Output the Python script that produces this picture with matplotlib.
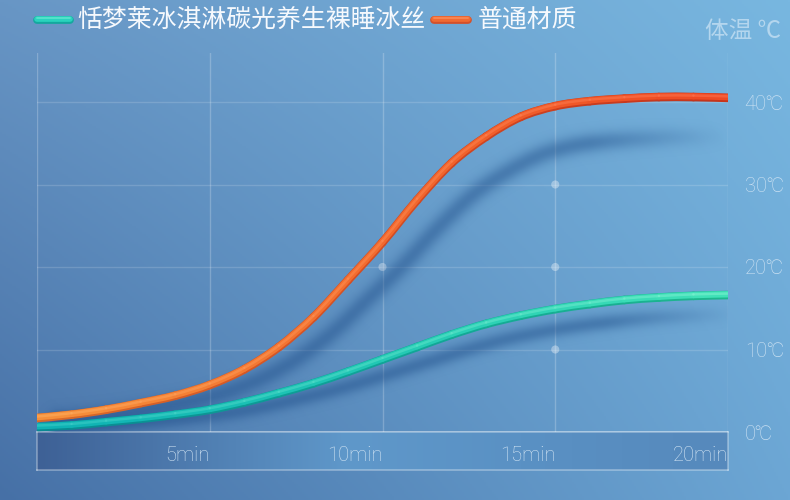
import numpy as np
import matplotlib
matplotlib.use("Agg")
import matplotlib.pyplot as plt
from matplotlib.colors import LinearSegmentedColormap, to_rgb
from matplotlib.lines import Line2D
from matplotlib.path import Path
from matplotlib.patches import PathPatch
import matplotlib.transforms as mtransforms

# ---------------- data ----------------
minutes = list(range(21))
ice_silk = [0.6, 0.8, 1.2, 1.6, 2.1, 2.7, 3.6, 4.7, 5.9, 7.3, 8.8, 10.3, 11.8,
            13.1, 14.1, 14.9, 15.5, 16.0, 16.3, 16.5, 16.6]
ordinary = [1.7, 2.1, 2.7, 3.5, 4.4, 5.7, 7.6, 10.3, 13.9, 18.4, 23.0, 28.1,
            32.6, 35.8, 38.2, 39.5, 40.1, 40.4, 40.6, 40.6, 40.5]
series_names = ["恬梦莱冰淇淋碳光养生裸睡冰丝", "普通材质"]
x_ticks = [5, 10, 15, 20]
x_tick_labels = ["5min", "10min", "15min", "20min"]
y_ticks = [0, 10, 20, 30, 40]
y_tick_labels = ["0℃", "10℃", "20℃", "30℃", "40℃"]
grid_dot_t = [10, 15, 15, 15]
grid_dot_v = [20, 30, 20, 10]
y_title = "体温 ℃"

CJK = ["Noto Sans CJK SC", "DejaVu Sans"]
LAT = ["Roboto", "Noto Sans CJK SC", "DejaVu Sans"]

W, H = 790, 500
fig = plt.figure(figsize=(W / 100, H / 100), dpi=100)

# ---------------- background gradient ----------------
bg = fig.add_axes([0, 0, 1, 1])
bg.set_axis_off()
gx = np.linspace(0, 1, 395)[None, :, None]
gy = np.linspace(0, 1, 250)[:, None, None]
TL = np.array([104, 150, 197]) / 255
TR = np.array([120, 183, 224]) / 255
BL = np.array([70, 112, 166]) / 255
BR = np.array([108, 166, 212]) / 255
img = (TL * (1 - gx) * (1 - gy) + TR * gx * (1 - gy) + BL * (1 - gx) * gy + BR * gx * gy)
bg.imshow(img, extent=[0, 1, 0, 1], aspect="auto", origin="upper", zorder=0)
bg.set_xlim(0, 1)
bg.set_ylim(0, 1)

# ---------------- bottom band ----------------
px_l, px_r, px_top, px_bottom_axis = 37, 728, 53, 432
band = fig.add_axes([px_l / W, (H - 470) / H, (px_r - px_l) / W, 38 / H])
stops = [(0.0, (62, 97, 150)), (0.45, (95, 152, 202)), (0.7, (90, 145, 196)), (1.0, (86, 137, 188))]
bcm = LinearSegmentedColormap.from_list("band", [(p, np.array(c) / 255) for p, c in stops])
band.imshow(np.linspace(0, 1, 300)[None, :], cmap=bcm, aspect="auto", extent=[0, 1, 0, 1])
band.set_xticks([])
band.set_yticks([])
for s in band.spines.values():
    s.set_color((1, 1, 1, 0.35))
    s.set_linewidth(1.2)

# ---------------- main axes ----------------
ax = fig.add_axes([px_l / W, (H - px_bottom_axis) / H, (px_r - px_l) / W, (px_bottom_axis - px_top) / H])
ax.patch.set_alpha(0)
YMAX = (px_bottom_axis - px_top) / 8.25
ax.set_xlim(0, 20)
ax.set_ylim(0, YMAX)
for s in ax.spines.values():
    s.set_visible(False)

for xv in [0] + x_ticks:
    ax.axvline(xv, color=(1, 1, 1, 0.22), lw=1.0, zorder=1)
for yv in y_ticks[1:]:
    ax.axhline(yv, color=(1, 1, 1, 0.15), lw=1.0, zorder=1)
ax.axhline(0, color=(1, 1, 1, 0.30), lw=1.2, zorder=1)

ax.scatter(grid_dot_t, grid_dot_v, s=34, color=(1, 1, 1, 0.35), edgecolors="none", zorder=2)

# ticks
ax.set_xticks(x_ticks)
ax.set_xticklabels(x_tick_labels)
ax.tick_params(axis="x", length=0, pad=10, labelsize=14.5, labelcolor="#d4e6f5")
for lab in ax.get_xticklabels():
    lab.set_ha("right")
    lab.set_family(LAT)
    lab.set_fontweight("light")
ax.yaxis.tick_right()
ax.set_yticks(y_ticks)
ax.set_yticklabels(y_tick_labels)
ax.tick_params(axis="y", length=0, pad=12, labelsize=14.5, labelcolor="#d0e4f4")
for lab in ax.get_yticklabels():
    lab.set_family(LAT)
    lab.set_fontweight("light")


# ---------------- smooth curve helpers ----------------
def bezier_segments(t, v):
    """Catmull-Rom style cubic Bezier control points between the data points."""
    P = np.column_stack([np.asarray(t, float), np.asarray(v, float)])
    n = len(P)
    segs = []
    for i in range(n - 1):
        p0 = P[max(i - 1, 0)]
        p1, p2 = P[i], P[i + 1]
        p3 = P[min(i + 2, n - 1)]
        c1 = p1 + (p2 - p0) / 6.0
        c2 = p2 - (p3 - p1) / 6.0
        segs.append(np.array([p1, c1, c2, p2]))
    return segs


def full_path(t, v):
    segs = bezier_segments(t, v)
    verts = [segs[0][0]]
    codes = [Path.MOVETO]
    for s in segs:
        verts += [s[1], s[2], s[3]]
        codes += [Path.CURVE4] * 3
    return Path(np.array(verts), codes)


# ---------------- soft shadows (rasterised blur) ----------------
def soft_shadow(t, v, dt, scale, color, sigma, peak, fade_from, fade_to):
    xs = np.asarray(t, float) + dt
    ys = np.asarray(v, float) * scale
    path = full_path(xs, ys)
    disp = ax.transData.transform_path(path).to_polygons(closed_only=False)[0]
    pts = np.asarray(disp)
    tdat = ax.transData.inverted().transform(pts)[:, 0]
    bb = ax.bbox
    Wp, Hp = int(round(bb.width)), int(round(bb.height))
    PX = bb.x0 + np.arange(Wp)[None, :] + 0.5
    PY = bb.y0 + np.arange(Hp)[:, None] + 0.5
    dmin = np.full((Hp, Wp), np.inf)
    tnear = np.zeros((Hp, Wp))
    for i in range(len(pts) - 1):
        a, b = pts[i], pts[i + 1]
        d = b - a
        L2 = d @ d
        if L2 == 0:
            continue
        u = np.clip(((PX - a[0]) * d[0] + (PY - a[1]) * d[1]) / L2, 0, 1)
        dist = np.hypot(PX - (a[0] + u * d[0]), PY - (a[1] + u * d[1]))
        m = dist < dmin
        dmin[m] = dist[m]
        tnear[m] = (tdat[i] + u * (tdat[i + 1] - tdat[i]))[m]
    fade = np.clip((fade_to - tnear) / (fade_to - fade_from), 0, 1)
    alpha = peak * np.exp(-dmin ** 2 / (2 * sigma ** 2)) * fade
    rgba = np.zeros((Hp, Wp, 4))
    rgba[..., :3] = to_rgb(color)
    rgba[..., 3] = alpha
    ax.imshow(rgba, extent=[0, 20, 0, YMAX], origin="lower", aspect="auto",
              zorder=3, interpolation="bilinear")


soft_shadow(minutes, ordinary, 0.6, 0.88, "#1d4c88", 7.0, 0.45, 16.0, 20.0)
soft_shadow(minutes, ice_silk, 0.6, 0.86, "#1d4c88", 6.0, 0.45, 16.5, 20.3)
ax.set_xlim(0, 20)
ax.set_ylim(0, YMAX)


# ---------------- tube lines ----------------
def tube(t, v, dark_cols, base_cols, hi_cols, z):
    segs = bezier_segments(t, v)
    pos = np.linspace(0, 1, len(segs))
    cm_d = LinearSegmentedColormap.from_list("d", dark_cols)
    cm_b = LinearSegmentedColormap.from_list("b", base_cols)
    cm_h = LinearSegmentedColormap.from_list("h", hi_cols)
    off_b = mtransforms.offset_copy(ax.transData, fig=fig, x=0, y=0.8, units="dots")
    off_h = mtransforms.offset_copy(ax.transData, fig=fig, x=0, y=1.5, units="dots")
    code = [Path.MOVETO, Path.CURVE4, Path.CURVE4, Path.CURVE4]
    layers = [(cm_d, 6.2, ax.transData, 1.0, 0.0),
              (cm_b, 4.6, off_b, 1.0, 0.1),
              (cm_h, 1.8, off_h, 0.45, 0.2)]
    for cm, lw, tr, al, dz in layers:
        for s, p in zip(segs, pos):
            c = cm(p)
            ax.add_patch(PathPatch(Path(s, code), fill=False, edgecolor=c, lw=lw,
                                   alpha=al, capstyle="round", joinstyle="round",
                                   transform=tr, zorder=z + dz))


tube(minutes, ice_silk,
     ["#098a92", "#10a498", "#1db68e"],
     ["#0fb2b4", "#22c8b4", "#40e1b7"],
     ["#45d2cc", "#62e6cc", "#8cf6d6"], 5)
tube(minutes, ordinary,
     ["#d8692a", "#d24d24", "#c5341c"],
     ["#f6903a", "#f26a2e", "#ee4a24"],
     ["#ffb468", "#ff9058", "#ff7a58"], 6)

# ---------------- legend & titles ----------------
fig.canvas.draw()
ren = fig.canvas.get_renderer()
ly = 1 - 20 / H


def swatch(x0, x1, dark, base, hi):
    fig.add_artist(Line2D([x0 / W, x1 / W], [ly, ly], transform=fig.transFigure,
                          color=dark, lw=5.6, solid_capstyle="round"))
    fig.add_artist(Line2D([x0 / W, x1 / W], [ly + 0.8 / H, ly + 0.8 / H], transform=fig.transFigure,
                          color=base, lw=4.1, solid_capstyle="round"))
    fig.add_artist(Line2D([x0 / W, x1 / W], [ly + 1.6 / H, ly + 1.6 / H], transform=fig.transFigure,
                          color=hi, lw=1.4, solid_capstyle="round", alpha=0.5))


swatch(37, 70, "#14a89e", "#2ad3bd", "#7ff0d8")
t1 = fig.text(77 / W, ly, series_names[0], ha="left", va="center", fontsize=17.9,
              color="#f6f9fd", family=CJK)
fig.canvas.draw()
bb1 = t1.get_window_extent(ren)
sx = bb1.x1 + 9
swatch(sx, sx + 34, "#d4502a", "#f06a32", "#ffa070")
fig.text((sx + 43) / W, ly, series_names[1], ha="left", va="center", fontsize=17.9,
         color="#f6f9fd", family=CJK)

fig.text(705 / W, 1 - 32 / H, y_title, ha="left", va="center", fontsize=17,
         color="#b4d6ee", family=CJK)

fig.savefig("out.png", dpi=100)
